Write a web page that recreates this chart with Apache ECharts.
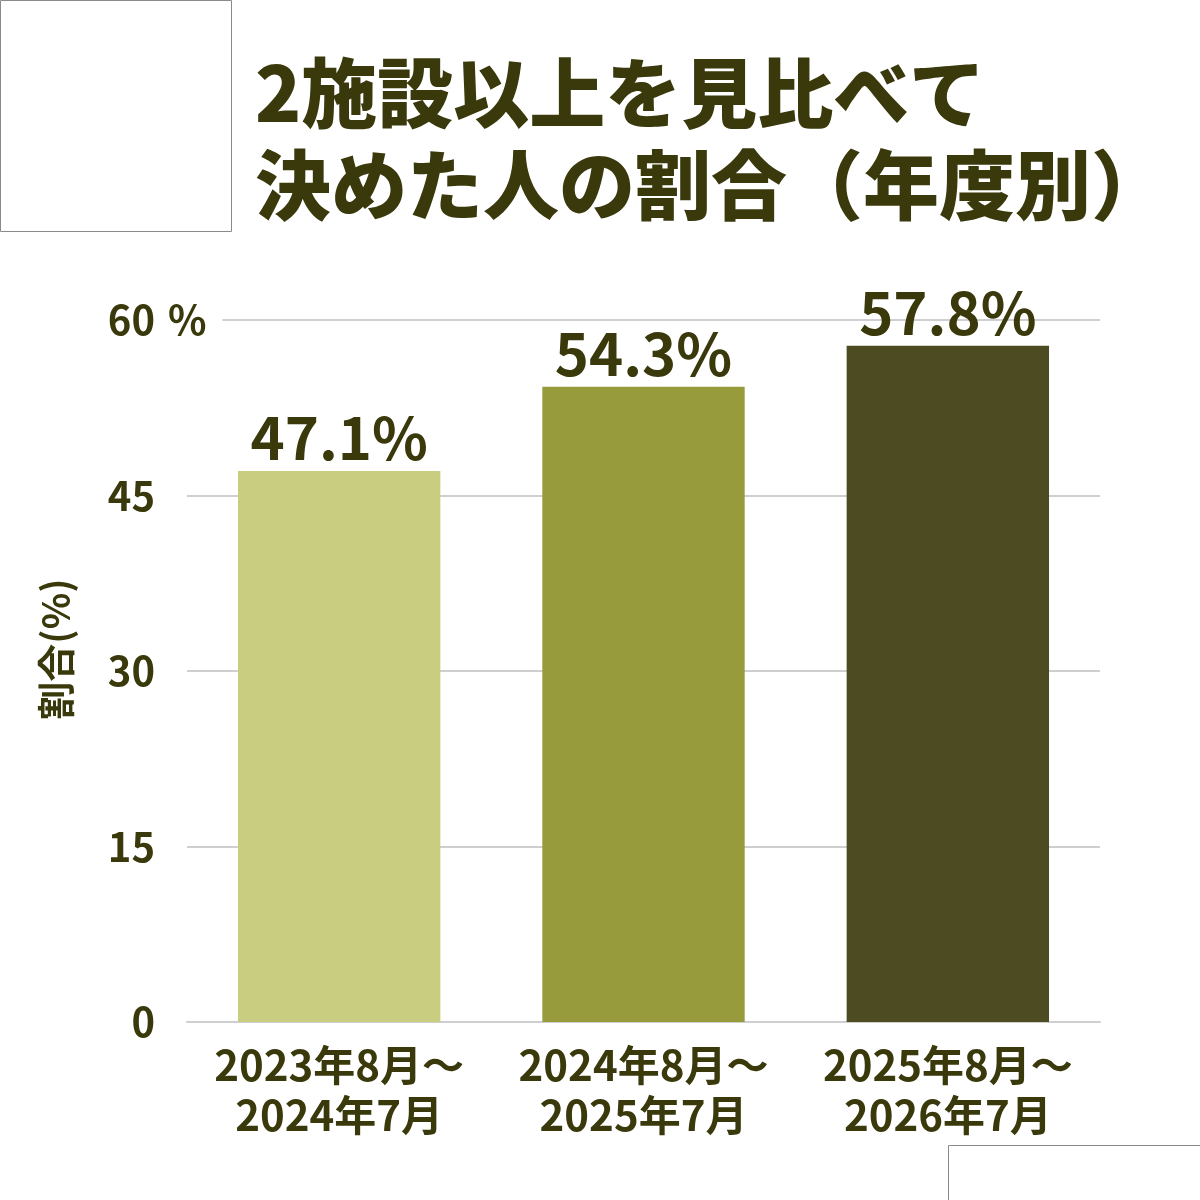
<!DOCTYPE html>
<html lang="ja">
<head>
    <meta charset="UTF-8">
    <title>2施設以上を見比べて決めた人の割合</title>
    <style>
        html, body { margin: 0; padding: 0; background: #ffffff; }
    </style>
</head>
<body>
<div id="main" style="width: 1200px;height:1200px;"></div>
<script src="https://cdn.jsdelivr.net/npm/echarts@6/dist/echarts.min.js"></script>
<script type="text/javascript">
    // データ
    var categories = ["2023年8月～\n2024年7月", "2024年8月～\n2025年7月", "2025年8月～\n2026年7月"];
    var values = [47.1, 54.3, 57.8];
    var barColors = ["#c9cd7f", "#979b3c", "#4d4b21"];
    var yTicks = [0, 15, 30, 45, 60];

    var textColor = "#3a390c";
    var fontFamily = "'Noto Sans CJK JP', 'Noto Sans', sans-serif";

    var myChart = echarts.init(document.getElementById("main"));

    var option = {
        backgroundColor: "#ffffff",
        textStyle: { fontFamily: fontFamily },
        animation: false,

        title: {
            text: "2施設以上を見比べて\n決めた人の割合（年度別）",
            left: 250,
            top: 42,
            textStyle: {
                color: textColor,
                fontSize: 76,
                fontWeight: 900,
                lineHeight: 92,
                fontFamily: fontFamily
            }
        },

        grid: {
            left: 187,
            right: 100,
            top: 320,
            bottom: 178
        },

        xAxis: {
            type: "category",
            data: categories,
            axisTick: { show: false },
            axisLine: { lineStyle: { color: "#cfcfd2", width: 2 } },
            axisLabel: {
                color: textColor,
                fontSize: 42,
                fontWeight: "bold",
                lineHeight: 50,
                margin: 18,
                interval: 0
            }
        },

        yAxis: {
            type: "value",
            min: yTicks[0],
            max: yTicks[yTicks.length - 1],
            interval: 15,
            name: "割合(%)",
            nameLocation: "middle",
            nameGap: 112,
            nameRotate: 90,
            nameTextStyle: {
                color: textColor,
                fontSize: 38,
                fontWeight: "bold",
                padding: [0, 0, 0, 44]
            },
            axisLine: { show: false },
            axisTick: { show: false },
            axisLabel: {
                color: textColor,
                fontSize: 40,
                fontWeight: "bold",
                margin: 32
            },
            splitLine: { lineStyle: { color: "#cfcfd2", width: 2 } }
        },

        series: [
            {
                name: "割合",
                type: "bar",
                barWidth: "66.5%",
                data: values.map(function (v, i) {
                    return { value: v, itemStyle: { color: barColors[i] } };
                }),
                label: {
                    show: true,
                    position: "top",
                    distance: 4,
                    color: textColor,
                    fontSize: 58,
                    fontWeight: "bold",
                    formatter: function (p) {
                        return p.value.toFixed(1) + "%";
                    }
                }
            }
        ]
    };

    myChart.setOption(option);

    // 上限目盛りの「%」と白い枠
    var topY = myChart.convertToPixel({ yAxisIndex: 0 }, yTicks[yTicks.length - 1]);
    myChart.setOption({
        graphic: [
            {
                type: "rect",
                shape: { x: 0.5, y: 0.5, width: 231, height: 231 },
                style: { fill: "#ffffff", stroke: "#8a8a8a", lineWidth: 1 }
            },
            {
                type: "rect",
                shape: { x: 948.5, y: 1145.5, width: 260, height: 60 },
                style: { fill: "#ffffff", stroke: "#8a8a8a", lineWidth: 1 }
            },
            {
                type: "text",
                x: 164,
                y: topY,
                style: {
                    text: "%",
                    fill: textColor,
                    font: "bold 40px " + fontFamily,
                    verticalAlign: "middle",
                    backgroundColor: "#ffffff",
                    padding: [0, 16, 0, 4]
                }
            }
        ]
    });
</script>
</body>
</html>
